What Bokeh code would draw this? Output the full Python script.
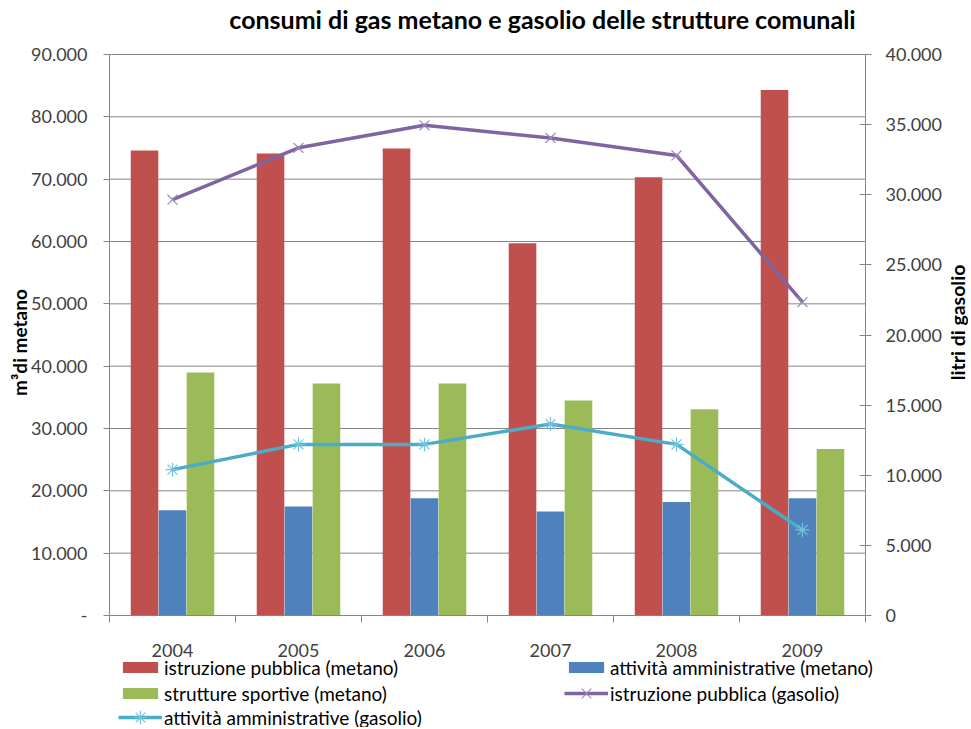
from bokeh.plotting import figure
from bokeh.models import (ColumnDataSource, Range1d, LinearAxis, FixedTicker, Legend,
                          LegendItem, Label)
from bokeh.transform import dodge
from bokeh.embed import file_html
from bokeh.resources import INLINE

# ---------------- data ----------------
years = ["2004", "2005", "2006", "2007", "2008", "2009"]
istruzione_metano = [74600, 74100, 74900, 59700, 70300, 84300]
amministrative_metano = [16900, 17500, 18800, 16700, 18200, 18800]
sportive_metano = [39000, 37200, 37200, 34500, 33100, 26700]
istruzione_gasolio = [29650, 33350, 34950, 34050, 32800, 22350]
amministrative_gasolio = [10400, 12200, 12200, 13650, 12200, 6100]

left_ticks = [0, 10000, 20000, 30000, 40000, 50000, 60000, 70000, 80000, 90000]
left_labels = ["-", "10.000", "20.000", "30.000", "40.000", "50.000", "60.000",
               "70.000", "80.000", "90.000"]
right_ticks = [0, 5000, 10000, 15000, 20000, 25000, 30000, 35000, 40000]
right_labels = ["0", "5.000", "10.000", "15.000", "20.000", "25.000", "30.000",
                "35.000", "40.000"]
left_max = 90000
right_max = 40000

title_text = "consumi di gas metano e gasolio delle strutture comunali"
left_title = "m³di metano"
right_title = "litri di gasolio"
names = ["istruzione pubblica (metano)", "attività amministrative (metano)",
         "strutture sportive (metano)", "istruzione pubblica (gasolio)",
         "attività amministrative (gasolio)"]

RED, BLUE, GREEN, PURPLE, AQUA = "#C0504D", "#4F81BD", "#9BBB59", "#8064A2", "#4BACC6"
GRID = "#868686"
FONT = "Lato"
TICK_SIZE = "18px"

# ---------------- layout (pixels) ----------------
W, H = 968, 727
PL, PR, PT, PB = 109, 865, 54, 615          # plot area edges on the canvas
n = len(years)
ppx = (PR - PL) / n
x_rng = Range1d(-PL / ppx, n + (W - PR) / ppx)
ppy_l = (PB - PT) / left_max
y_rng = Range1d(-(H - PB) / ppy_l, left_max + PT / ppy_l)
ppy_r = (PB - PT) / right_max
r_rng = Range1d(-(H - PB) / ppy_r, right_max + PT / ppy_r)

xs = [i + 0.5 for i in range(n)]
src = ColumnDataSource(dict(x=xs, red=istruzione_metano, blue=amministrative_metano,
                            green=sportive_metano, purple=istruzione_gasolio,
                            aqua=amministrative_gasolio))

p = figure(width=W, height=H, output_backend="svg", toolbar_location=None,
           x_range=x_rng, y_range=y_rng,
           min_border_left=0, min_border_right=0, min_border_top=0, min_border_bottom=0)
p.outline_line_color = None
p.background_fill_color = "white"
p.border_fill_color = "white"
p.extra_y_ranges = {"right": r_rng}
p.xgrid.visible = False
p.ygrid.visible = False

# horizontal gridlines at the left-axis ticks
p.segment(x0=[0] * len(left_ticks), x1=[n] * len(left_ticks), y0=left_ticks,
          y1=left_ticks, line_color=GRID, line_width=1)

# bars
bw = 0.219
off = 0.222
r_red = p.vbar(x=dodge("x", -off), top="red", width=bw, source=src, fill_color=RED,
               line_color=None)
r_blue = p.vbar(x="x", top="blue", width=bw, source=src, fill_color=BLUE, line_color=None)
r_green = p.vbar(x=dodge("x", off), top="green", width=bw, source=src, fill_color=GREEN,
                 line_color=None)

# lines on right axis
l_purple = p.line(x="x", y="purple", source=src, y_range_name="right", line_color=PURPLE,
                  line_width=3.5)
m_purple = p.scatter(x="x", y="purple", source=src, y_range_name="right", marker="x",
                     size=14, line_color="#9D87BC", line_width=1.2)
l_aqua = p.line(x="x", y="aqua", source=src, y_range_name="right", line_color=AQUA,
                line_width=3.5)
m_aqua = p.scatter(x="x", y="aqua", source=src, y_range_name="right", marker="asterisk",
                   size=14, line_color="#6FC3DA", line_width=1.2)

# x axis
xa = p.xaxis[0]
xa.fixed_location = 0
xa.bounds = (0, n)
xa.ticker = FixedTicker(ticks=xs, minor_ticks=list(range(n + 1)))
xa.major_label_overrides = {x: y for x, y in zip(xs, years)}
xa.major_tick_line_color = None
xa.minor_tick_in = 0
xa.minor_tick_out = 7
xa.minor_tick_line_color = GRID
xa.axis_line_color = GRID
xa.major_label_standoff = 21
xa.major_label_text_font = FONT
xa.major_label_text_font_size = TICK_SIZE
xa.major_label_text_color = "#404040"

# left axis
ya = p.yaxis[0]
ya.fixed_location = 0
ya.bounds = (0, left_max)
ya.ticker = FixedTicker(ticks=left_ticks)
ya.major_label_overrides = {t: s for t, s in zip(left_ticks, left_labels)}
ya.major_tick_in = 0
ya.major_tick_out = 6
ya.minor_tick_line_color = None
ya.major_tick_line_color = GRID
ya.axis_line_color = GRID
ya.major_label_standoff = 16
ya.major_label_text_font = FONT
ya.major_label_text_font_size = TICK_SIZE
ya.major_label_text_color = "#404040"

# right axis
ra = LinearAxis(y_range_name="right", ticker=FixedTicker(ticks=right_ticks))
ra.fixed_location = n
ra.bounds = (0, right_max)
ra.major_label_overrides = {t: s for t, s in zip(right_ticks, right_labels)}
ra.major_tick_in = 6
ra.major_tick_out = 6
ra.minor_tick_line_color = None
ra.major_tick_line_color = GRID
ra.axis_line_color = GRID
ra.major_label_standoff = 14
ra.major_label_text_font = FONT
ra.major_label_text_font_size = TICK_SIZE
ra.major_label_text_color = "#404040"
p.add_layout(ra, "right")

# titles (screen units, from the bottom-left of the canvas)
p.add_layout(Label(x=542, y=H - 18, x_units="screen", y_units="screen", text=title_text,
                   text_align="center", text_baseline="middle", text_font=FONT,
                   text_font_style="bold", text_font_size="25px", text_color="#000000"))
p.add_layout(Label(x=19, y=H - 342, x_units="screen", y_units="screen", text=left_title,
                   angle=1.5708, text_align="center", text_baseline="middle",
                   text_font=FONT, text_font_style="bold", text_font_size="19px",
                   text_color="#000000"))
p.add_layout(Label(x=957, y=H - 322, x_units="screen", y_units="screen", text=right_title,
                   angle=1.5708, text_align="center", text_baseline="middle",
                   text_font=FONT, text_font_style="bold", text_font_size="19.5px",
                   text_color="#000000"))

# legends
common = dict(padding=0, margin=0, spacing=3, glyph_width=44, label_standoff=2,
              label_height=22, label_text_font=FONT, label_text_font_size="19px",
              label_text_color="#000000", border_line_color=None,
              background_fill_alpha=0)
leg_bars = Legend(items=[LegendItem(label=names[0], renderers=[r_red]),
                         LegendItem(label=names[1], renderers=[r_blue]),
                         LegendItem(label=names[2], renderers=[r_green])],
                  location=(118, 22.5), orientation="horizontal", ncols=2,
                  glyph_height=14, label_width=397, **common)
leg_purple = Legend(items=[LegendItem(label=names[3], renderers=[l_purple, m_purple])],
                    location=(564, 17), glyph_height=34, **common)
leg_aqua = Legend(items=[LegendItem(label=names[4], renderers=[l_aqua, m_aqua])],
                  location=(118, -7), glyph_height=34, **common)
p.add_layout(leg_bars, "center")
p.add_layout(leg_purple, "center")
p.add_layout(leg_aqua, "center")

open("out.html", "w").write(file_html(p, INLINE))
